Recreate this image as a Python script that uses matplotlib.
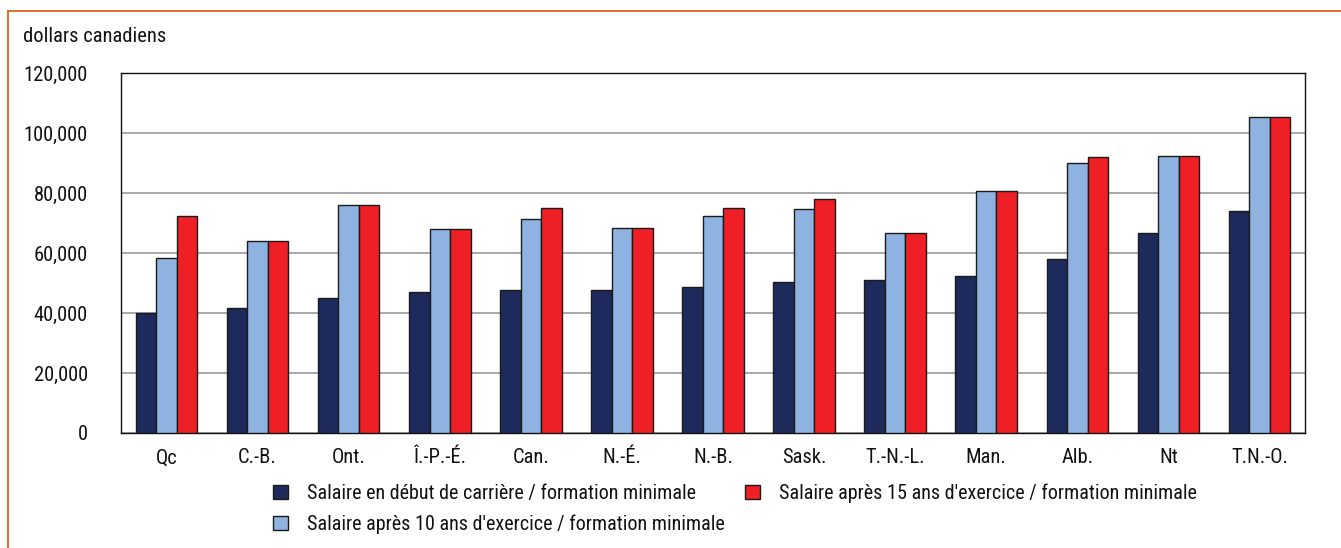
import matplotlib
matplotlib.use("Agg")
import matplotlib.pyplot as plt
import numpy as np

plt.rcParams['font.family'] = ['Roboto Condensed', 'Archivo Narrow', 'DejaVu Sans']

categories = ["Qc", "C.-B.", "Ont.", "Î.-P.-É.", "Can.", "N.-É.", "N.-B.", "Sask.",
              "T.-N.-L.", "Man.", "Alb.", "Nt", "T.N.-O."]
debut = [40100, 41800, 44900, 47100, 47800, 47800, 48800, 50300, 50900, 52300, 58100, 66800, 74100]
apres10 = [58200, 64100, 76000, 68000, 71400, 68300, 72400, 74700, 66700, 80600, 89900, 92400, 105200]
apres15 = [72200, 64100, 76000, 68000, 75100, 68300, 75000, 77900, 66700, 80600, 92000, 92400, 105200]
series_labels = ["Salaire en début de carrière / formation minimale",
                 "Salaire après 10 ans d'exercice / formation minimale",
                 "Salaire après 15 ans d'exercice / formation minimale"]
yticks = [0, 20000, 40000, 60000, 80000, 100000, 120000]
colors = ["#1f2a5c", "#8fb3e0", "#ee2026"]

FS = 14.8
LFS = 14.5

W, H = 1341, 548
fig = plt.figure(figsize=(W / 100, H / 100), dpi=100)
ax = fig.add_axes([121 / W, 1 - 433 / H, (1305 - 121) / W, (433 - 73) / H])

x = np.arange(len(categories))
w = 0.225
handles = []
for i, (vals, c, lab) in enumerate(zip([debut, apres10, apres15], colors, series_labels)):
    b = ax.bar(x + (i - 1) * w, vals, w, color=c, edgecolor="#1a1a1a", linewidth=1.0,
               label=lab, zorder=3)
    handles.append(b)

ax.set_xlim(-0.5, len(categories) - 0.5)
ax.set_ylim(0, 120000)
ax.set_yticks(yticks)
ax.set_yticklabels([f"{v:,}" for v in yticks])
ax.set_xticks(x)
ax.set_xticklabels(categories)
ax.tick_params(axis='both', length=0, labelsize=FS, colors="#111111")
ax.tick_params(axis='y', pad=24)
ax.tick_params(axis='x', pad=11)
ax.grid(axis='y', color="#9a9a9a", linewidth=1.2, zorder=0)
for s in ax.spines.values():
    s.set_color("#111111")
    s.set_linewidth(1.0)

fig.text(23 / W, 1 - 36 / H, "dollars canadiens", fontsize=FS, va='center', ha='left', color="#111111")

leg = fig.legend(handles=handles, labels=series_labels, ncol=2, loc='center left',
                 bbox_to_anchor=(273 / W, 1 - 509 / H), frameon=False, fontsize=LFS,
                 handlelength=0.75, handleheight=0.7, handletextpad=0.95, columnspacing=1.0,
                 labelspacing=0.55, borderaxespad=0, borderpad=0)
for t in leg.get_texts():
    t.set_color("#111111")

# orange frame (top and left edges)
fig.add_artist(plt.Line2D([8 / W, 1.0], [1 - 11 / H, 1 - 11 / H], color="#d9661f", linewidth=1.3,
                          transform=fig.transFigure))
fig.add_artist(plt.Line2D([8 / W, 8 / W], [0, 1 - 11 / H], color="#d9661f", linewidth=1.3,
                          transform=fig.transFigure))

fig.savefig("out.png", dpi=100)
